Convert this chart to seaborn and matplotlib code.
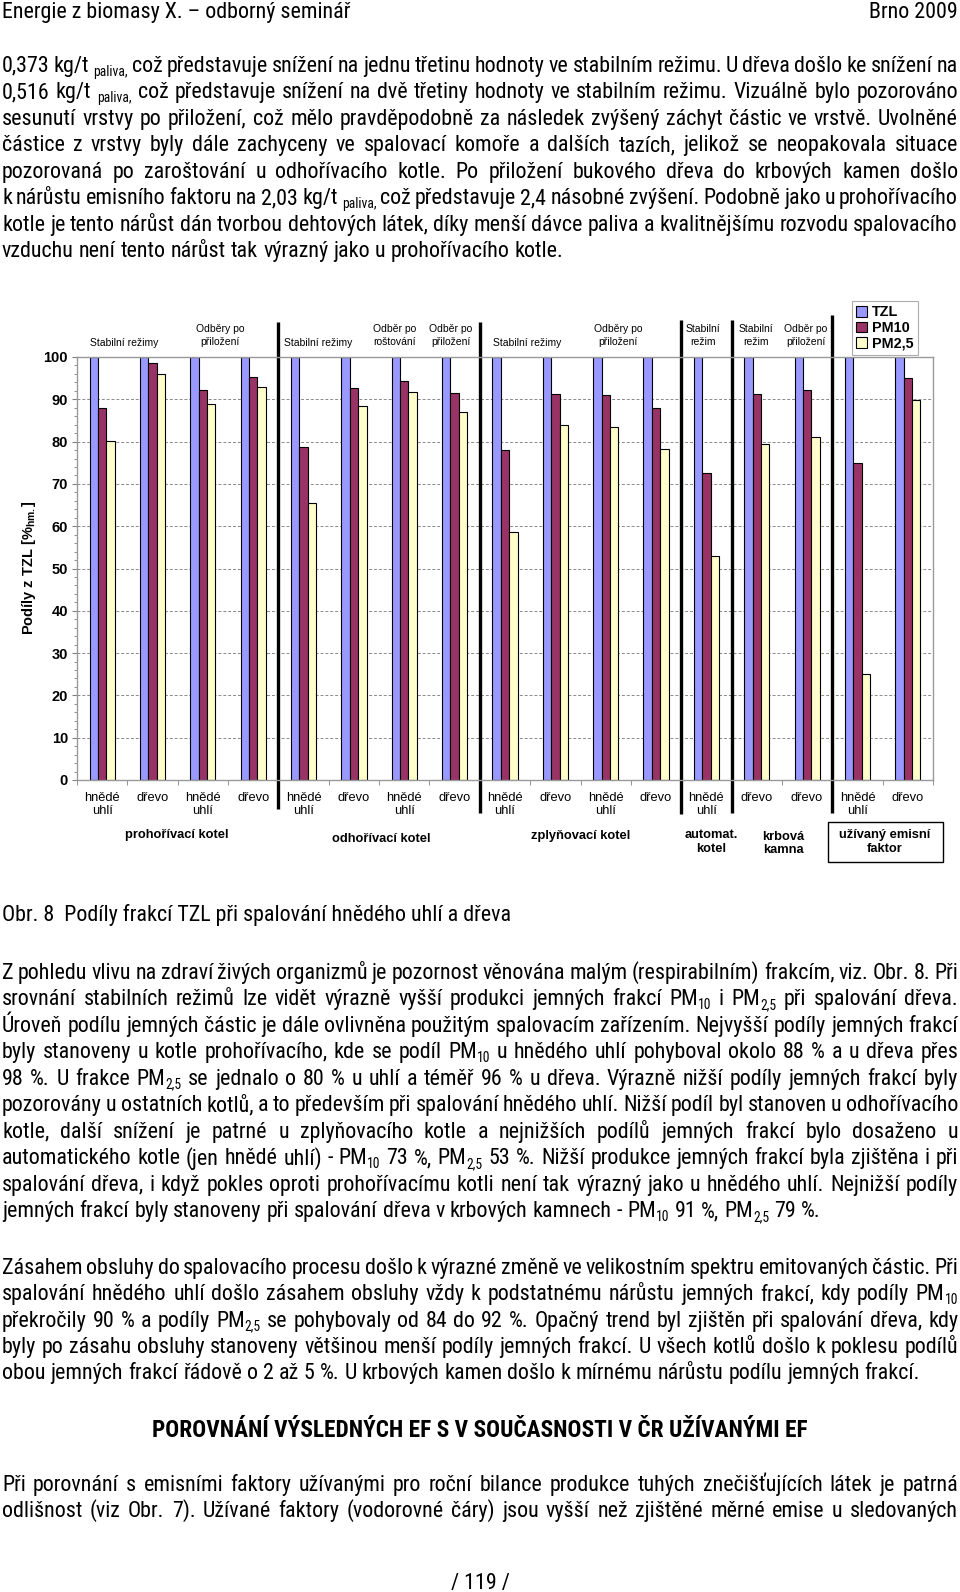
import re
import numpy as np
import pandas as pd
import matplotlib
matplotlib.use("Agg")
import matplotlib.pyplot as plt
import matplotlib.font_manager as fm
from matplotlib.transforms import IdentityTransform
from matplotlib.patches import Patch, Rectangle
import seaborn as sns

# ---------------- data ----------------
x_labels = ["hnědé\nuhlí", "dřevo", "hnědé\nuhlí", "dřevo",
            "hnědé\nuhlí", "dřevo", "hnědé\nuhlí", "dřevo",
            "hnědé\nuhlí", "dřevo", "hnědé\nuhlí", "dřevo",
            "hnědé\nuhlí", "dřevo", "dřevo", "hnědé\nuhlí", "dřevo"]
series_names = ["TZL", "PM10", "PM2,5"]
tzl = [100, 100, 100, 100, 100, 100, 100, 100, 100, 100, 100, 100, 100, 100, 100, 100, 100]
pm10 = [88.0, 98.6, 92.2, 95.2, 78.8, 92.7, 94.3, 91.5, 78.0, 91.3, 90.9, 87.9, 72.6, 91.2, 92.1, 75.0, 95.0]
pm25 = [80.1, 96.0, 89.0, 93.0, 65.4, 88.3, 91.7, 87.0, 58.6, 84.0, 83.5, 78.3, 52.9, 79.4, 81.1, 25.1, 89.9]
colors = ["#9999FF", "#993366", "#FFFFCC"]

top_labels = ["Stabilní režimy", "Odběry po\npřiložení", "Stabilní režimy", "Odběr po\nroštování",
              "Odběr po\npřiložení", "Stabilní režimy", "Odběry po\npřiložení", "Stabilní\nrežim",
              "Stabilní\nrežim", "Odběr po\npřiložení"]
group_labels = ["prohořívací kotel", "odhořívací kotel", "zplyňovací kotel", "automat.\nkotel",
                "krbová\nkamna", "užívaný emisní\nfaktor"]
separators_at = [3.5, 7.5, 11.5, 12.5, 14.5]
y_label = r"Podíly z TZL [%$_{\mathbf{hm.}}$]"

header_left = "Energie z biomasy X. – odborný seminář"
header_right = "Brno 2009"
para1 = [
    "0,373 kg/t _{paliva,} což představuje snížení na jednu třetinu hodnoty ve stabilním režimu. U dřeva došlo ke snížení na",
    "0,516 kg/t _{paliva,} což představuje snížení na dvě třetiny hodnoty ve stabilním režimu. Vizuálně bylo pozorováno",
    "sesunutí vrstvy po přiložení, což mělo pravděpodobně za následek zvýšený záchyt částic ve vrstvě. Uvolněné",
    "částice z vrstvy byly dále zachyceny ve spalovací komoře a dalších tazích, jelikož se neopakovala situace",
    "pozorovaná po zaroštování u odhořívacího kotle. Po přiložení bukového dřeva do krbových kamen došlo",
    "k nárůstu emisního faktoru na 2,03 kg/t _{paliva,} což představuje 2,4 násobné zvýšení. Podobně jako u prohořívacího",
    "kotle je tento nárůst dán tvorbou dehtových látek, díky menší dávce paliva a kvalitnějšímu rozvodu spalovacího",
    "vzduchu není tento nárůst tak výrazný jako u prohořívacího kotle.",
]
caption = "Obr. 8  Podíly frakcí TZL při spalování hnědého uhlí a dřeva"
para2 = [
    "Z pohledu vlivu na zdraví živých organizmů je pozornost věnována malým (respirabilním) frakcím, viz. Obr. 8. Při",
    "srovnání stabilních režimů lze vidět výrazně vyšší produkci jemných frakcí PM_{10} i PM_{2,5} při spalování dřeva.",
    "Úroveň podílu jemných částic je dále ovlivněna použitým spalovacím zařízením. Nejvyšší podíly jemných frakcí",
    "byly stanoveny u kotle prohořívacího, kde se podíl PM_{10} u hnědého uhlí pohyboval okolo 88 % a u dřeva přes",
    "98 %. U frakce PM_{2,5} se jednalo o 80 % u uhlí a téměř 96 % u dřeva. Výrazně nižší podíly jemných frakcí byly",
    "pozorovány u ostatních kotlů, a to především při spalování hnědého uhlí. Nižší podíl byl stanoven u odhořívacího",
    "kotle, další snížení je patrné u zplyňovacího kotle a nejnižších podílů jemných frakcí bylo dosaženo u",
    "automatického kotle (jen hnědé uhlí) - PM_{10} 73 %, PM_{2,5} 53 %. Nižší produkce jemných frakcí byla zjištěna i při",
    "spalování dřeva, i když pokles oproti prohořívacímu kotli není tak výrazný jako u hnědého uhlí. Nejnižší podíly",
    "jemných frakcí byly stanoveny při spalování dřeva v krbových kamnech - PM_{10} 91 %, PM_{2,5} 79 %.",
]
para3 = [
    "Zásahem obsluhy do spalovacího procesu došlo k výrazné změně ve velikostním spektru emitovaných částic. Při",
    "spalování hnědého uhlí došlo zásahem obsluhy vždy k podstatnému nárůstu jemných frakcí, kdy podíly PM_{10}",
    "překročily 90 % a podíly PM_{2,5} se pohybovaly od 84 do 92 %. Opačný trend byl zjištěn při spalování dřeva, kdy",
    "byly po zásahu obsluhy stanoveny většinou menší podíly jemných frakcí. U všech kotlů došlo k poklesu podílů",
    "obou jemných frakcí řádově o 2 až 5 %. U krbových kamen došlo k mírnému nárůstu podílu jemných frakcí.",
]
heading = "POROVNÁNÍ VÝSLEDNÝCH EF S V SOUČASNOSTI V ČR UŽÍVANÝMI EF"
para4 = [
    "Při porovnání s emisními faktory užívanými pro roční bilance produkce tuhých znečišťujících látek je patrná",
    "odlišnost (viz Obr. 7). Užívané faktory (vodorovné čáry) jsou vyšší než zjištěné měrné emise u sledovaných",
]
page_number = "/ 119 /"

# ---------------- fonts ----------------
plt.rcParams["mathtext.fontset"] = "custom"
plt.rcParams["mathtext.rm"] = "Liberation Sans"
plt.rcParams["mathtext.bf"] = "Liberation Sans:bold"
plt.rcParams["font.family"] = ["Liberation Sans", "DejaVu Sans"]

entries = fm.fontManager.ttflist


def wnum(e):
    w = e.weight
    if isinstance(w, str):
        w = {"bold": 700, "normal": 400, "regular": 400, "light": 300, "medium": 500}.get(w.lower(), 400)
    return w


def pick_font(bold):
    want_w = 700 if bold else 400
    cands = [e for e in entries if e.style == "normal" and abs(wnum(e) - want_w) < 150]
    # closest weight first, static files preferred over variable ones
    cands.sort(key=lambda e: (abs(wnum(e) - want_w), "[" in e.fname, e.fname))
    for name in ["Liberation Sans Narrow", "Arial Narrow"]:
        for e in cands:
            if e.name == name:
                return e
    for e in cands:
        if e.name == "Roboto Condensed":
            return e
    for name in ["Noto Sans", "Open Sans", "Roboto", "DejaVu Sans"]:
        for e in cands:
            if e.name == name and str(e.stretch) in ("condensed", "semi-condensed", "extra-condensed"):
                return e
    for e in cands:
        if e.name == "Liberation Sans":
            return e
    return None


body_entry = pick_font(False)
bold_entry = pick_font(True)
body_fp = fm.FontProperties(fname=body_entry.fname) if body_entry else fm.FontProperties(family="Liberation Sans")
bold_fp = fm.FontProperties(fname=bold_entry.fname) if bold_entry else fm.FontProperties(family="Liberation Sans", weight="bold")

# ---------------- figure ----------------
W, H = 960, 1592
fig = plt.figure(figsize=(W / 100, H / 100), dpi=100)
ID = IdentityTransform()
renderer = fig.canvas.get_renderer()

# ---------------- chart ----------------
n = len(tzl)
df = pd.DataFrame({
    "pos": list(range(n)) * 3,
    "val": tzl + pm10 + pm25,
    "frakce": [series_names[0]] * n + [series_names[1]] * n + [series_names[2]] * n,
})

ax = fig.add_axes([77 / W, (H - 780) / H, 856 / W, 423 / H])
ax.set_axisbelow(True)
sns.barplot(data=df, x="pos", y="val", hue="frakce", hue_order=series_names, palette=colors,
            width=0.5, saturation=1, edgecolor="black", linewidth=0.8, errorbar=None,
            legend=False, ax=ax)
ax.set_xlim(-0.5, n - 0.5)
ax.set_ylim(0, 100)
ax.set_xlabel("")
ax.set_ylabel("")
ax.set_yticks(np.arange(0, 101, 10))
ax.set_yticks(np.arange(0, 101, 2), minor=True)
ax.set_yticklabels([str(v) for v in range(0, 101, 10)], fontsize=10.5, fontweight="bold")
ax.yaxis.grid(True, which="major", color="#8a8a8a", linestyle=(0, (3, 2)), linewidth=0.7)
ax.set_xticks(range(n))
ax.set_xticklabels(x_labels, fontsize=9.3, va="top", linespacing=1.15)
ax.set_xticks(np.arange(-0.5, n, 1.0), minor=True)
ax.tick_params(axis="x", which="major", length=0, pad=8.5)
ax.tick_params(axis="x", which="minor", length=3.5, color="#808080", direction="out")
ax.tick_params(axis="y", which="major", length=3.5, color="#808080", direction="out", pad=3)
ax.tick_params(axis="y", which="minor", length=2, color="#808080", direction="out")
for s in ax.spines.values():
    s.set_color("#999999")
    s.set_linewidth(1.0)

# separators between boiler types
sep_top = [108.3, 108.3, 108.7, 108.7, 110.0]
sep_bot = [-6.9, -7.8, -8.0, -7.8, -7.8]
for xs, t, b in zip(separators_at, sep_top, sep_bot):
    ax.plot([xs, xs], [b, t], color="black", linewidth=2.4, clip_on=False, solid_capstyle="butt")

# annotations above groups (pixel positions of the reference layout)
top_pos = [(124, 343), (220, 335.5), (318, 343), (395, 335.5), (451, 335.5),
           (527, 343), (618, 335.5), (703, 335.5), (756, 335.5), (806, 335.5)]
for txt, (xp, yp) in zip(top_labels, top_pos):
    fig.text(xp, H - yp, txt, transform=ID, ha="center", va="center", fontsize=7.5,
             linespacing=1.3, family="Liberation Sans")

grp_pos = [(177, 835), (381, 839), (581, 836), (711, 842), (783, 843.5), (885, 842)]
for txt, (xp, yp) in zip(group_labels, grp_pos):
    fig.text(xp, H - yp, txt, transform=ID, ha="center", va="center", fontsize=9.3,
             fontweight="bold", linespacing=1.15, family="Liberation Sans")
fig.add_artist(Rectangle((828, H - 862), 115, 40, transform=ID, fill=False,
                         edgecolor="black", linewidth=1.0))

fig.text(29, H - 568, y_label, transform=ID, rotation=90, ha="center", va="center",
         fontsize=10.5, fontweight="bold", family="Liberation Sans")

handles = [Patch(facecolor=c, edgecolor="black", linewidth=0.8) for c in colors]
leg = fig.legend(handles, series_names, loc="upper left",
                 bbox_to_anchor=(852 / W, 1 - 301 / H), bbox_transform=fig.transFigure,
                 frameon=True, fancybox=False, edgecolor="#999999", borderpad=0.3,
                 handlelength=0.75, handleheight=0.75, handletextpad=0.35, labelspacing=0.12,
                 borderaxespad=0, prop={"family": "Liberation Sans", "weight": "bold", "size": 10.4})
leg.get_frame().set_linewidth(0.8)

# ---------------- page text ----------------
SUB = re.compile(r"_\{([^}]*)\}")


def pieces_of(word):
    out, pos = [], 0
    for m in SUB.finditer(word):
        if m.start() > pos:
            out.append((word[pos:m.start()], False))
        out.append((m.group(1), True))
        pos = m.end()
    if pos < len(word):
        out.append((word[pos:], False))
    return out


def fp_sized(fp, size):
    f = fp.copy()
    f.set_size(size)
    return f


def width_of(s, fp, size):
    t = fig.text(0, 0, s, fontproperties=fp_sized(fp, size), transform=ID)
    w = t.get_window_extent(renderer).width
    t.remove()
    return w


# size fitted so the caption spans its width in the reference
cap_w10 = width_of(caption.replace("  ", " \u00a0"), body_fp, 10)
BODY = 10 * 507 / cap_w10
BODY_PX = BODY * 100 / 72
space_w = width_of("n n", body_fp, BODY) - width_of("nn", body_fp, BODY)
head_w10 = width_of(heading, bold_fp, 10)
HEAD = 10 * 651 / head_w10


def draw_line(line, yc, justify, fp=body_fp, size=BODY, x0=2, x1=958):
    spx = size * 100 / 72
    items = []
    for w in line.split(" "):
        ps = []
        for s, sub in pieces_of(w):
            sz = size * 0.62 if sub else size
            t = fig.text(0, 0, s, fontproperties=fp_sized(fp, sz), transform=ID, va="baseline", ha="left")
            ps.append((t, t.get_window_extent(renderer).width, sub))
        items.append((ps, sum(p[1] for p in ps)))
    total = sum(i[1] for i in items)
    gap = (x1 - x0 - total) / (len(items) - 1) if (justify and len(items) > 1) else space_w
    x = x0
    base = H - (yc + 0.36 * spx)
    for ps, ww in items:
        xx = x
        for t, wd, sub in ps:
            t.set_position((xx, base - (0.17 * spx if sub else 0)))
            xx += wd
        x += ww + gap


def draw_para(lines, y0, step, last_justified=False):
    for i, ln in enumerate(lines):
        last = i == len(lines) - 1
        draw_line(ln, y0 + i * step, justify=(not last) or last_justified)


fig.text(2, H - (10 + 0.36 * BODY_PX), header_left, transform=ID, fontproperties=fp_sized(body_fp, BODY),
         ha="left", va="baseline")
fig.text(958, H - (10 + 0.36 * BODY_PX), header_right, transform=ID, fontproperties=fp_sized(body_fp, BODY),
         ha="right", va="baseline")

draw_para(para1, 64, 26.5)
fig.text(2, H - (913 + 0.36 * BODY_PX), caption, transform=ID, fontproperties=fp_sized(body_fp, BODY),
         ha="left", va="baseline")
draw_para(para2, 971, 26.5)
draw_para(para3, 1266, 26.3)
fig.text(480, H - (1429 + 0.36 * BODY_PX), heading, transform=ID, fontproperties=fp_sized(bold_fp, HEAD),
         ha="center", va="baseline")
draw_para(para4, 1483, 26.3, last_justified=True)
fig.text(480, H - (1581 + 0.36 * BODY_PX), page_number, transform=ID, fontproperties=fp_sized(body_fp, BODY),
         ha="center", va="baseline")

fig.savefig("out.png", dpi=100, facecolor="white")
